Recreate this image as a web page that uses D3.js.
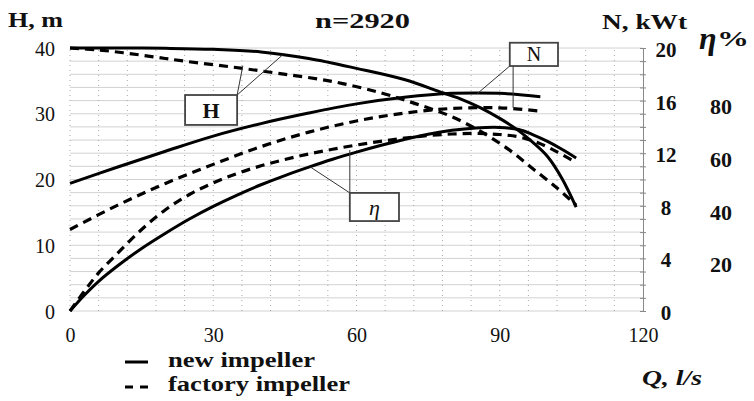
<!DOCTYPE html>
<html>
<head>
<meta charset="utf-8">
<script src="https://cdn.jsdelivr.net/npm/d3@7"></script>
<style>
  html, body { margin: 0; padding: 0; background: #fff; }
  svg { display: block; }
  text { font-family: "Liberation Serif", "Times New Roman", serif; fill: #111; }
</style>
</head>
<body>
<svg id="chart" width="754" height="401"></svg>
<script>
// ---- Data ----
// Head H (m) vs flow Q (l/s)
const qHeadNew = [0, 10, 20, 30, 40, 50, 60, 70, 78, 82, 86, 90, 94, 97, 100, 103, 106];
const headNew  = [40, 40, 39.95, 39.8, 39.4, 38.4, 36.9, 35.2, 33.2, 32.2, 30.9, 29.3, 27.4, 25.6, 23.5, 20.2, 15.8];
const qHeadFac = [0, 6, 12, 18, 24, 34, 44, 55, 65, 72.5, 79.5, 86, 92, 97, 102, 106];
const headFac  = [40, 39.7, 39.2, 38.6, 38.0, 37.1, 36.1, 34.9, 33.2, 31.5, 29.7, 27.3, 24.5, 21.6, 18.7, 16.1];
// Power N (kW) vs Q
const qPowNew = [0, 10, 20, 30, 40, 50, 60, 70, 80, 90, 98.5];
const powNew  = [9.7, 10.95, 12.15, 13.3, 14.25, 15.05, 15.75, 16.25, 16.55, 16.55, 16.3];
const qPowFac = [0, 10, 20, 30, 40, 50, 60, 70, 80, 90, 98.5];
const powFac  = [6.2, 8.05, 9.7, 11.15, 12.5, 13.6, 14.45, 15.05, 15.4, 15.45, 15.2];
// Efficiency eta (%) vs Q
const qEffNew = [0, 3, 6, 10, 15, 20, 25, 30, 35, 40, 45, 50, 55, 60, 65, 70, 75, 80, 85, 90, 94, 97, 100, 103, 106];
const effNew  = [0, 6, 11.3, 17.2, 23.8, 29.6, 35, 39.8, 44.1, 48, 51.5, 54.7, 57.7, 60.4, 62.9, 65.2, 67.2, 68.7, 69.6, 69.8, 69, 67, 64.5, 61.5, 58.2];
const qEffFac = [0, 3, 6, 10, 15, 20, 25, 30, 35, 40, 45, 50, 55, 60, 65, 70, 75, 80, 85, 90, 94, 98, 102, 105];
const effFac  = [0, 7.5, 14.5, 22, 31, 38.5, 44.3, 48.7, 52.3, 55.2, 57.6, 59.7, 61.5, 63.1, 64.5, 65.7, 66.7, 67.3, 67.5, 67.1, 66.2, 64, 60.5, 57.5];

// Axis ticks
const qTicks   = [0, 30, 60, 90, 120];
const hTicks   = [0, 10, 20, 30, 40];
const nTicks   = [0, 4, 8, 12, 16, 20];
const effTicks = [20, 40, 60, 80];
const legendLabels = ["new impeller", "factory impeller"];

// ---- Scales ----
const x    = d3.scaleLinear().domain([0, 120]).range([70, 643]);
const yH   = d3.scaleLinear().domain([0, 40]).range([311, 48]);
const yN   = d3.scaleLinear().domain([0, 20]).range([311, 48]);
const yEff = d3.scaleLinear().domain([0, 100]).range([311, 48]);

const svg = d3.select("#chart");

// ---- Grid ----
const grid = svg.append("g");
grid.selectAll("line.h").data(d3.range(0, 41, 2)).join("line")
  .attr("x1", x(0)).attr("x2", x(120))
  .attr("y1", d => yH(d)).attr("y2", d => yH(d))
  .attr("stroke", "#d2d2d2").attr("stroke-width", 1);
grid.selectAll("line.v").data(d3.range(0, 120, 6)).join("line")
  .attr("x1", d => x(d)).attr("x2", d => x(d))
  .attr("y1", yH(0)).attr("y2", yH(40))
  .attr("stroke", "#a8a8a8").attr("stroke-width", 1)
  .attr("stroke-dasharray", "1,4");

// right axis line with ticks
const rAxis = svg.append("g").attr("transform", `translate(${x(120)},0)`)
  .call(d3.axisRight(yN).tickValues(d3.range(0, 21, 1)).tickSize(3).tickFormat(""));
rAxis.select(".domain").attr("stroke", "#888");
rAxis.selectAll(".tick line").attr("stroke", "#888").attr("x1", -3);

// ---- Axes labels ----
const left = svg.append("g").attr("transform", `translate(${x(0)},0)`)
  .call(d3.axisLeft(yH).tickValues(hTicks).tickSize(0).tickPadding(15));
left.select(".domain").remove();
left.selectAll("text").attr("font-size", 20).attr("font-family", "Liberation Serif").attr("dy", "0.36em");

const bottom = svg.append("g").attr("transform", `translate(0,${yH(0)})`)
  .call(d3.axisBottom(x).tickValues(qTicks).tickSize(0).tickPadding(17));
bottom.select(".domain").remove();
bottom.selectAll("text").attr("font-size", 20).attr("font-family", "Liberation Serif");

const rightN = svg.append("g").attr("transform", `translate(${x(120)},0)`)
  .call(d3.axisRight(yN).tickValues(nTicks).tickSize(0).tickPadding(23));
rightN.select(".domain").remove();
rightN.selectAll("text").attr("font-size", 21).attr("font-weight", "bold")
  .attr("font-family", "Liberation Serif").attr("text-anchor", "middle").attr("dy", "0.4em");

const rightE = svg.append("g").attr("transform", `translate(${x(120)},0)`)
  .call(d3.axisRight(yEff).tickValues(effTicks).tickSize(0).tickPadding(78));
rightE.select(".domain").remove();
rightE.selectAll("text").attr("font-size", 22).attr("font-weight", "bold")
  .attr("font-family", "Liberation Serif").attr("text-anchor", "middle").attr("dy", "0.6em");

// ---- Curves ----
function drawCurve(qs, vs, yScale, dashed) {
  const pts = qs.map((q, i) => [q, vs[i]]);
  const line = d3.line().x(d => x(d[0])).y(d => yScale(d[1])).curve(d3.curveCatmullRom.alpha(0.5));
  svg.append("path").datum(pts).attr("d", line)
    .attr("fill", "none").attr("stroke", "#000")
    .attr("stroke-width", dashed ? 3.2 : 3)
    .attr("stroke-dasharray", dashed ? "9,6" : null)
    .attr("stroke-linecap", "butt");
}
drawCurve(qHeadFac, headFac, yH, true);
drawCurve(qPowFac, powFac, yN, true);
drawCurve(qEffFac, effFac, yEff, true);
drawCurve(qHeadNew, headNew, yH, false);
drawCurve(qPowNew, powNew, yN, false);
drawCurve(qEffNew, effNew, yEff, false);

// ---- Annotation boxes with leader lines (data coordinates) ----
function leader(x1, y1, x2, y2) {
  svg.append("line").attr("x1", x1).attr("y1", y1).attr("x2", x2).attr("y2", y2)
    .attr("stroke", "#333").attr("stroke-width", 1);
}
function box(q0, q1, top, bot, yScale, label, style) {
  svg.append("rect")
    .attr("x", x(q0)).attr("y", yScale(top))
    .attr("width", x(q1) - x(q0)).attr("height", yScale(bot) - yScale(top))
    .attr("fill", "#fff").attr("stroke", "#444").attr("stroke-width", 1.8);
  svg.append("text")
    .attr("x", (x(q0) + x(q1)) / 2).attr("y", (yScale(top) + yScale(bot)) / 2)
    .attr("dy", "0.35em").attr("text-anchor", "middle")
    .attr("font-size", style.size).attr("font-weight", style.weight || "normal")
    .attr("font-style", style.italic ? "italic" : "normal")
    .text(label);
}
// H
leader(x(35), yH(32.85), x(36.2), yH(37.3));
leader(x(35), yH(32.85), x(44.6), yH(39.0));
box(24.1, 35.0, 32.85, 28.3, yH, "H", {size: 22, weight: "bold"});
// N
leader(x(92.1), yN(18.63), x(85.2), yN(16.5));
leader(x(92.8), yN(18.63), x(92.8), yN(15.45));
box(92.1, 102.2, 20.4, 18.63, yN, "N", {size: 20});
// eta
leader(x(58.6), yEff(44.9), x(58.6), yEff(61.2));
leader(x(58.6), yEff(44.9), x(50.3), yEff(54.8));
box(58.6, 68.9, 44.9, 34.2, yEff, "η", {size: 22, italic: true});

// ---- Titles ----
function label(txt, xx, yy, size, width, opts = {}) {
  const t = svg.append("text").attr("x", xx).attr("y", yy)
    .attr("font-size", size).attr("font-weight", opts.weight || "bold")
    .attr("font-style", opts.italic ? "italic" : "normal").text(txt);
  if (width) t.attr("textLength", width).attr("lengthAdjust", "spacingAndGlyphs");
  return t;
}
label("H, m", 8, 27, 21, 55);
label("n=2920", 315, 28, 21, 95);
label("N, kWt", 602, 29, 21, 85);
label("η", 699, 49, 32, null, {italic: true, weight: "bold"});
label("%", 717, 46, 22, 32);
label("Q, l/s", 642, 385, 20, 60, {italic: true});

// ---- Legend ----
const lg = svg.append("g");
lg.selectAll("line.leg").data(legendLabels).join("line")
  .attr("x1", 125).attr("x2", 148)
  .attr("y1", (d, i) => 362 + i * 25).attr("y2", (d, i) => 362 + i * 25)
  .attr("stroke", "#000").attr("stroke-width", 3)
  .attr("stroke-dasharray", (d, i) => i ? "8,7" : null);
lg.selectAll("text.leg").data(legendLabels).join("text")
  .attr("x", 168).attr("y", (d, i) => 367 + i * 24)
  .attr("font-size", 20).attr("font-weight", "bold")
  .attr("textLength", (d, i) => i ? 182 : 147).attr("lengthAdjust", "spacingAndGlyphs")
  .text(d => d);
</script>
</body>
</html>
